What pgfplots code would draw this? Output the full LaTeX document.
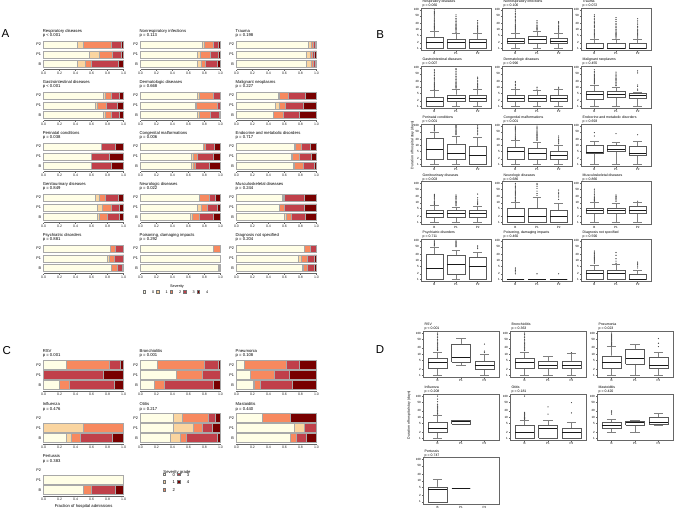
\documentclass[border=0pt]{standalone}
\usepackage{fontspec}
\setmainfont{Liberation Sans}
\usepackage{pgfplots}
\usepackage{pgfplotstable}
\pgfplotsset{compat=1.18}

\definecolor{s0}{HTML}{FFFEE6}
\definecolor{s1}{HTML}{FAD5A0}
\definecolor{s2}{HTML}{F7895F}
\definecolor{s3}{HTML}{C0404A}
\definecolor{s4}{HTML}{780000}
\definecolor{brd}{HTML}{A8A8A8}

\newcommand\fTa{\fontsize{4.2}{4.4}\selectfont}
\newcommand\fTk{\fontsize{3.5}{3.7}\selectfont}
\newcommand\fYl{\fontsize{3.8}{4}\selectfont}
\newcommand\fTb{\fontsize{3.5}{3.7}\selectfont}
\newcommand\fBk{\fontsize{3}{3.2}\selectfont}
\newcommand\fLet{\fontsize{11.5}{12}\selectfont}

% severity shares, g: 0=B 1=P1 2=P2
\pgfplotstableread{
g s0 s1 s2 s3 s4
0 0.42 0.10 0.07 0.34 0.07
1 0.57 0.12 0.17 0.11 0.03
2 0.42 0.08 0.35 0.12 0.03
}\aResp
\pgfplotstableread{
g s0 s1 s2 s3 s4
0 0.71 0.05 0.05 0.15 0.04
1 0.71 0.04 0.12 0.10 0.03
2 0.77 0.03 0.11 0.06 0.03
}\aNonr
\pgfplotstableread{
g s0 s1 s2 s3 s4
0 0.87 0.06 0.03 0.02 0.02
1 0.87 0.05 0.03 0.025 0.025
2 0.90 0.03 0.03 0.02 0.02
}\aTrau
\pgfplotstableread{
g s0 s1 s2 s3 s4
0 0.74 0.03 0.08 0.10 0.05
1 0.64 0.03 0.11 0.14 0.08
2 0.75 0.02 0.08 0.10 0.05
}\aGast
\pgfplotstableread{
g s0 s1 s2 s3 s4
0 0.71 0.03 0.13 0.11 0.02
1 0.69 0.01 0.26 0.04 0
2 0.71 0.025 0.175 0.09 0
}\aDerm
\pgfplotstableread{
g s0 s1 s2 s3 s4
0 0.46 0.005 0.125 0.20 0.21
1 0.49 0.04 0.08 0.22 0.17
2 0.525 0.005 0.12 0.21 0.14
}\aMali
\pgfplotstableread{
g s0 s1 s2 s3 s4
0 0.59 0 0 0.25 0.16
1 0.59 0 0 0.23 0.18
2 0.72 0 0 0.17 0.11
}\aPeri
\pgfplotstableread{
g s0 s1 s2 s3 s4
0 0.63 0.025 0.035 0.17 0.14
1 0.63 0.03 0.05 0.20 0.09
2 0.78 0.01 0.02 0.11 0.08
}\aCong
\pgfplotstableread{
g s0 s1 s2 s3 s4
0 0.71 0.01 0.12 0.13 0.03
1 0.68 0.02 0.09 0.14 0.07
2 0.72 0.01 0.08 0.11 0.08
}\aEndo
\pgfplotstableread{
g s0 s1 s2 s3 s4
0 0.67 0.03 0.09 0.16 0.05
1 0.67 0.06 0.11 0.11 0.05
2 0.64 0.05 0.08 0.16 0.07
}\aGeni
\pgfplotstableread{
g s0 s1 s2 s3 s4
0 0.62 0.03 0.08 0.185 0.085
1 0.71 0.05 0.07 0.13 0.04
2 0.73 0 0.13 0.08 0.06
}\aNeur
\pgfplotstableread{
g s0 s1 s2 s3 s4
0 0.60 0.02 0.06 0.18 0.14
1 0.54 0 0.06 0.25 0.15
2 0.57 0.015 0.015 0.25 0.15
}\aMusc
\pgfplotstableread{
g s0 s1 s2 s3 s4
0 0.84 0 0.085 0.055 0.02
1 0.80 0.02 0.065 0.105 0.01
2 0.83 0 0.06 0.11 0
}\aPsyc
\pgfplotstableread{
g s0 s1 s2 s3 s4
0 0.97 0 0.01 0.02 0
1 1 0 0 0 0
2 0.91 0 0.09 0 0
}\aPois
\pgfplotstableread{
g s0 s1 s2 s3 s4
0 0.82 0.01 0.05 0.09 0.03
1 0.77 0.04 0.07 0.09 0.03
2 0.85 0 0.07 0.08 0
}\aDiag
\pgfplotstableread{
g s0 s1 s2 s3 s4
0 0.20 0 0.12 0.57 0.11
1 0 0 0 0.75 0.25
2 0.28 0 0.54 0.14 0.04
}\cRsv
\pgfplotstableread{
g s0 s1 s2 s3 s4
0 0.18 0 0.12 0.61 0.09
1 0.45 0 0.33 0.22 0
2 0.21 0 0.59 0.18 0.02
}\cBron
\pgfplotstableread{
g s0 s1 s2 s3 s4
0 0.21 0.01 0.08 0.40 0.30
1 0.18 0 0.30 0.18 0.34
2 0.10 0 0.52 0.17 0.21
}\cPneu
\pgfplotstableread{
g s0 s1 s2 s3 s4
0 0.29 0.06 0.11 0.40 0.14
1 0 0.50 0.50 0 0
2 0 0 0 0 0
}\cInfl
\pgfplotstableread{
g s0 s1 s2 s3 s4
0 0.38 0.12 0.08 0.38 0.04
1 0.41 0.25 0.11 0.13 0.10
2 0.41 0.12 0.32 0.09 0.06
}\cOtit
\pgfplotstableread{
g s0 s1 s2 s3 s4
0 0.67 0 0.08 0.125 0.125
1 0.72 0.13 0 0.15 0
2 0.33 0 0.34 0 0.33
}\cMast
\pgfplotstableread{
g s0 s1 s2 s3 s4
0 0.50 0 0.10 0.30 0.10
1 1 0 0 0 0
2 0 0 0 0 0
}\cPert

\pgfplotsset{
  sevbase/.style={scale only axis, width=80pt, xmin=0, xmax=1, ymin=-0.55, ymax=2.55,
    xbar stacked,
    xtick={0,0.2,0.4,0.6,0.8,1}, xticklabels={0.0,0.2,0.4,0.6,0.8,1.0},
    ytick={0,1,2}, yticklabels={B,P1,P2},
    axis lines*=left, y axis line style={draw=none}, ytick style={draw=none},
    x axis line style={black!60, line width=0.3pt}, xtick style={black!60, line width=0.3pt},
    tick align=outside, major tick length=1.3pt,
    xticklabel style={font=\fTk, inner sep=0.6pt, text=black!85},
    yticklabel style={font=\fYl, inner sep=1pt},
    clip=false},
  sevA/.style={sevbase, height=30.5pt, bar width=7pt,
    every axis plot/.append style={draw=brd, line width=0.6pt}},
  sevC/.style={sevbase, height=31.6pt, bar width=9pt,
    every axis plot/.append style={draw=brd, line width=0.9pt}},
  sevleg/.style={hide axis, scale only axis, width=1pt, height=1pt,
    xmin=0, xmax=1, ymin=0, ymax=1, anchor=center,
    legend image code/.code={\draw[##1, draw=black!55, line width=0.3pt]
      (0pt,0.1pt) rectangle (2.6pt,2.7pt);}},
  whisk/.style={draw=black!50, line width=0.3pt},
  boxl/.style={draw=black!65, line width=0.3pt, fill=white},
  med/.style={draw=black!90, line width=0.75pt},
  outl/.style={only marks, mark=*, mark size=0.5pt,
    mark options={fill=black!70, draw=black!70, line width=0.1pt}},
}

% stacked severity bars: style, x, top, name, p, table
\newcommand{\sev}[6]{%
\begin{axis}[#1, at={(#2pt,-#3pt)}, anchor=north west]
\addplot[fill=s0] table[x=s0,y=g]{#6};
\addplot[fill=s1] table[x=s1,y=g]{#6};
\addplot[fill=s2] table[x=s2,y=g]{#6};
\addplot[fill=s3] table[x=s3,y=g]{#6};
\addplot[fill=s4] table[x=s4,y=g]{#6};
\end{axis}
\node[anchor=base west,inner sep=0pt,font=\fTa] at ([xshift=-1pt,yshift=6.5pt]#2pt,-#3pt) {#4};
\node[anchor=base west,inner sep=0pt,font=\fTa] at ([xshift=-1pt,yshift=2.2pt]#2pt,-#3pt) {#5};
}
% box axis: width, height, x, top
\newcommand{\boxax}[4]{\begin{axis}[scale only axis, anchor=north west,
    width=#1pt, height=#2pt, at={(#3pt,-#4pt)},
    ymode=log, ymin=0.8, ymax=125, xmin=0.38, xmax=3.62,
    xtick={1,2,3}, xticklabels={B,P1,P2},
    ytick={1,2,5,10,20,50,100}, yticklabels={1,2,5,10,20,50,100}, minor ytick={},
    axis line style={black!60, line width=0.35pt}, tick style={black!60, line width=0.3pt},
    tick align=outside, major tick length=1.2pt, xtick pos=left, ytick pos=left,
    tick label style={font=\fBk, inner sep=0.7pt}]}
% box: position, lower whisker, q1, median, q3, upper whisker, outliers
\newcommand{\bx}[7]{%
\addplot[whisk] table[row sep=\\, x expr=\thisrow{x}+#1]{x y\\ 0 #5\\ 0 #6\\};
\addplot[whisk] table[row sep=\\, x expr=\thisrow{x}+#1]{x y\\ 0 #3\\ 0 #2\\};
\addplot[whisk] table[row sep=\\, x expr=\thisrow{x}+#1]{x y\\ -0.2 #6\\ 0.2 #6\\};
\addplot[whisk] table[row sep=\\, x expr=\thisrow{x}+#1]{x y\\ -0.2 #2\\ 0.2 #2\\};
\addplot[boxl] table[row sep=\\, x expr=\thisrow{x}+#1]{x y\\ -0.4 #3\\ 0.4 #3\\ 0.4 #5\\ -0.4 #5\\ -0.4 #3\\};
\addplot[med] table[row sep=\\, x expr=\thisrow{x}+#1]{x y\\ -0.4 #4\\ 0.4 #4\\};
\if\relax\detokenize{#7}\relax\else\addplot[outl] coordinates {#7};\fi}
\newcommand{\btitle}[4]{%
\node[anchor=base west,inner sep=0pt,font=\fTb] at ([xshift=1.5pt,yshift=5.1pt]#1pt,-#2pt) {#3};
\node[anchor=base west,inner sep=0pt,font=\fTb] at ([xshift=1.5pt,yshift=1.2pt]#1pt,-#2pt) {#4};}

\begin{document}
\begin{tikzpicture}
\path[use as bounding box] (0pt,0pt) rectangle (676pt,-510pt);

% ---------- A ----------
\node[font=\fLet] at (5.5pt,-33.5pt) {A};
\sev{sevA}{43.6}{39.1}{Respiratory diseases}{p < 0.001}{\aResp}
\sev{sevA}{140.5}{39.1}{Nonrespiratory infections}{p = 0.113}{\aNonr}
\sev{sevA}{236.5}{39.1}{Trauma}{p = 0.198}{\aTrau}
\sev{sevA}{43.6}{90.1}{Gastrointestinal diseases}{p < 0.001}{\aGast}
\sev{sevA}{140.5}{90.1}{Dermatologic diseases}{p = 0.668}{\aDerm}
\sev{sevA}{236.5}{90.1}{Malignant neoplasms}{p = 0.227}{\aMali}
\sev{sevA}{43.6}{141.1}{Perinatal conditions}{p = 0.038}{\aPeri}
\sev{sevA}{140.5}{141.1}{Congenital malformations}{p = 0.006}{\aCong}
\sev{sevA}{236.5}{141.1}{Endocrine and metabolic disorders}{p = 0.717}{\aEndo}
\sev{sevA}{43.6}{192.1}{Genitourinary diseases}{p = 0.849}{\aGeni}
\sev{sevA}{140.5}{192.1}{Neurologic diseases}{p = 0.022}{\aNeur}
\sev{sevA}{236.5}{192.1}{Musculoskeletal diseases}{p = 0.244}{\aMusc}
\sev{sevA}{43.6}{243.1}{Psychiatric disorders}{p = 0.881}{\aPsyc}
\sev{sevA}{140.5}{243.1}{Poisoning, damaging impacts}{p = 0.292}{\aPois}
\sev{sevA}{236.5}{243.1}{Diagnosis not specified}{p = 0.204}{\aDiag}

\node[font=\fYl] at (177pt,-286.3pt) {Severity};
\begin{axis}[sevleg, at={(176.5pt,-293.3pt)},
  legend style={at={(0.5,0.5)}, anchor=center, draw=none, fill=none, font=\fYl,
    legend columns=5, inner sep=0pt, /tikz/every odd column/.append style={column sep=4.5pt}}]
\addlegendimage{fill=s0}\addlegendentry{0}
\addlegendimage{fill=s1}\addlegendentry{1}
\addlegendimage{fill=s2}\addlegendentry{2}
\addlegendimage{fill=s3}\addlegendentry{3}
\addlegendimage{fill=s4}\addlegendentry{4}
\end{axis}

% ---------- B ----------
\node[font=\fLet] at (380.3pt,-34.5pt) {B};
\node[rotate=90, font=\fTb] at (412.5pt,-145pt) {Duration of hospital stay (days)};

\boxax{70}{42.5}{421}{8}
\bx{1}{1}{1}{2}{4}{8}{(1,9)(1,10)(1,11)(1,12)(1,13)(1,14)(1,15)(1,17)(1,19)(1,21)(1,24)(1,27)(1,30)(1,34)(1,38)(1,43)(1,49)(1,56)(1,64)(1,73)(1,84)(1,100)}
\bx{2}{1}{1}{2}{3}{6}{(2,7)(2,8)(2,9)(2,10)(2,11)(2,12)(2,14)(2,16)(2,18)(2,21)(2,25)(2,30)(2,36)(2,45)(2,55)}
\bx{3}{1}{1}{2}{3}{6}{(3,7)(3,8)(3,9)(3,10)(3,11)(3,12)(3,14)(3,16)(3,19)(3,23)(3,28)}
\end{axis}
\btitle{421}{8}{Respiratory diseases}{p = 0.060}
\boxax{70}{42.5}{502}{8}
\bx{1}{1}{2}{2.5}{3.5}{6}{(1,7)(1,8)(1,9)(1,10)(1,11)(1,12)(1,14)(1,16)(1,18)(1,21)(1,24)(1,28)(1,33)(1,39)(1,46)(1,55)(1,66)(1,80)(1,100)}
\bx{2}{1}{2}{3}{4.5}{8}{(2,9)(2,10)(2,11)(2,12)(2,14)(2,16)(2,19)(2,23)(2,28)}
\bx{3}{1}{2}{2.5}{3.5}{6}{(3,7)(3,8)(3,9)(3,10)(3,11)(3,12)(3,14)(3,16)(3,19)(3,22)(3,25)}
\end{axis}
\btitle{502}{8}{Nonrespiratory infections}{p = 0.106}
\boxax{70}{42.5}{581}{8}
\bx{1}{1}{1}{1}{2}{3}{(1,3.5)(1,4)(1,4.5)(1,5)(1,5.5)(1,6)(1,7)(1,8)(1,9)(1,10)(1,12)(1,14)(1,16)(1,19)(1,22)(1,26)(1,31)(1,37)(1,45)(1,55)}
\bx{2}{1}{1}{1}{2}{3}{(2,3.5)(2,4)(2,4.5)(2,5)(2,5.5)(2,6)(2,7)(2,8)(2,9)(2,10)(2,12)(2,14)(2,17)(2,20)(2,25)(2,32)(2,40)}
\bx{3}{1}{1}{1}{2}{3}{(3,3.5)(3,4)(3,4.5)(3,5)(3,5.5)(3,6)(3,7)(3,8)(3,9)(3,10)(3,12)(3,14)(3,17)(3,21)(3,27)(3,35)}
\end{axis}
\btitle{581}{8}{Trauma}{p = 0.072}

\boxax{70}{42.5}{421}{66}
\bx{1}{1}{1}{1.9}{3.1}{7}{(1,7.5)(1,8)(1,9)(1,10)(1,11)(1,12)(1,14)(1,16)(1,18)(1,21)(1,24)(1,28)(1,33)(1,40)(1,48)(1,58)(1,70)(1,80)}
\bx{2}{1}{1.9}{2.6}{4.1}{8}{(2,9)(2,10)(2,11)(2,12)(2,14)(2,16)(2,18)(2,21)(2,25)(2,30)(2,36)(2,44)(2,54)(2,66)(2,80)(2,90)}
\bx{3}{1}{1.9}{2.6}{4.1}{8}{(3,9)(3,10)(3,11)(3,12)(3,14)(3,16)(3,19)(3,23)(3,28)(3,33)}
\end{axis}
\btitle{421}{66}{Gastrointestinal diseases}{p = 0.007}
\boxax{70}{42.5}{502}{66}
\bx{1}{1}{1.9}{2.8}{3.8}{8}{(1,9)(1,10)(1,12)(1,14)(1,17)(1,20)}
\bx{2}{1}{1.9}{2.8}{3.8}{7}{(2,8)(2,10)}
\bx{3}{1}{1.9}{2.8}{3.8}{8}{(3,9)(3,10)}
\end{axis}
\btitle{502}{66}{Dermatologic diseases}{p = 0.996}
\boxax{70}{42.5}{581}{66}
\bx{1}{1}{2.3}{4.5}{6.1}{13.5}{(1,15)(1,16)(1,18)(1,20)(1,22)(1,25)(1,28)(1,31)(1,35)(1,40)(1,46)(1,55)(1,65)(1,80)}
\bx{2}{1}{3}{4.5}{6.1}{10}{(2,12)(2,13)(2,15)(2,17)(2,19)(2,22)(2,25)(2,29)(2,34)(2,40)(2,48)(2,60)}
\bx{3}{1}{2.8}{3.8}{5}{5.7}{(3,7)(3,8)(3,11)(3,13)(3,55)(3,70)}
\end{axis}
\btitle{581}{66}{Malignant neoplasms}{p = 0.455}

\boxax{70}{42.5}{421}{124}
\bx{1}{1}{1.9}{6.3}{23}{50}{(1,55)(1,60)(1,66)(1,73)(1,80)(1,88)(1,97)(1,105)}
\bx{2}{1}{2}{3.7}{12}{30}{(2,35)(2,39)(2,43)(2,48)(2,53)(2,59)(2,66)(2,74)(2,83)(2,93)(2,104)}
\bx{3}{1}{1}{2.9}{9}{27}{(3,35)(3,42)(3,50)(3,60)(3,72)(3,85)(3,100)}
\end{axis}
\btitle{421}{124}{Perinatal conditions}{p < 0.001}
\boxax{70}{42.5}{502}{124}
\bx{1}{1}{2}{5}{8}{18}{(1,20)(1,22)(1,24)(1,27)(1,30)(1,34)(1,38)(1,43)(1,49)(1,56)(1,64)(1,73)(1,84)(1,97)}
\bx{2}{1}{2}{4}{7}{15}{(2,18)(2,20)(2,22)(2,25)(2,28)(2,32)(2,36)(2,41)(2,47)(2,54)(2,62)(2,72)(2,84)(2,97)}
\bx{3}{1}{2}{2.9}{5}{10}{(3,12)(3,13)(3,15)(3,17)(3,20)(3,24)(3,30)}
\end{axis}
\btitle{502}{124}{Congenital malformations}{p < 0.001}
\boxax{70}{42.5}{581}{124}
\bx{1}{1}{3.7}{4.4}{9.7}{16}{(1,30)(1,45)}
\bx{2}{1}{5}{6}{10}{15}{(2,40)}
\bx{3}{1}{3}{4}{9}{17}{(3,35)}
\end{axis}
\btitle{581}{124}{Endocrine and metabolic disorders}{p = 0.693}

\boxax{70}{42.5}{421}{181.5}
\bx{1}{1}{1.8}{2.9}{4.1}{7.4}{(1,8)(1,9)(1,10)(1,11)(1,12)(1,14)(1,16)(1,18)(1,21)(1,24)(1,27)}
\bx{2}{1}{1.8}{2.9}{4}{6}{(2,7)(2,8)(2,9)(2,10)(2,11)(2,12)(2,14)(2,16)(2,18)(2,21)(2,25)}
\bx{3}{1}{1.8}{2.9}{4.1}{7}{(3,8)(3,9)(3,10)(3,12)(3,14)(3,18)(3,28)}
\end{axis}
\btitle{421}{181.5}{Genitourinary diseases}{p = 0.003}
\boxax{70}{42.5}{502}{181.5}
\bx{1}{1}{1}{1.9}{5.2}{10.7}{(1,12)(1,13)(1,14)(1,16)(1,18)(1,20)(1,23)(1,26)(1,30)(1,34)(1,39)(1,45)(1,52)(1,60)(1,70)(1,82)(1,100)}
\bx{2}{1}{1}{1.9}{5.2}{19}{(2,24)(2,30)(2,40)(2,55)(2,70)(2,85)(2,100)}
\bx{3}{1}{1}{1.9}{4.1}{9}{(3,15)(3,20)(3,25)(3,30)(3,35)(3,45)}
\end{axis}
\btitle{502}{181.5}{Neurologic diseases}{p = 0.686}
\boxax{70}{42.5}{581}{181.5}
\bx{1}{1}{2.8}{4.1}{5.4}{10.7}{(1,12)(1,13)(1,14)(1,15)(1,17)(1,19)(1,22)(1,26)(1,32)(1,40)(1,50)}
\bx{2}{1}{2.8}{4.1}{5.4}{10}{(2,12)(2,14)(2,16)(2,18)(2,21)(2,25)}
\bx{3}{1}{2.8}{4.1}{6.6}{11}{(3,12)}
\end{axis}
\btitle{581}{181.5}{Musculoskeletal diseases}{p = 0.866}

\boxax{70}{42.5}{421}{239}
\bx{1}{1}{1}{3.9}{20}{49}{(1,55)(1,60)(1,66)(1,73)(1,80)(1,90)(1,100)}
\bx{2}{1}{2}{5.8}{19}{33}{(2,50)(2,56)(2,63)(2,71)(2,80)(2,90)(2,100)}
\bx{3}{1}{1}{4.7}{14}{27}{(3,40)(3,48)(3,55)}
\end{axis}
\btitle{421}{239}{Psychiatric disorders}{p = 0.711}
\boxax{70}{42.5}{502}{239}
\bx{1}{1}{1}{1}{1}{1}{(1,2)(1,2.5)(1,3)(1,3.5)(1,4)}
\bx{2}{1}{1}{1}{1}{1}{(2,2)}
\bx{3}{1}{1}{1}{1}{1}{(3,2)}
\end{axis}
\btitle{502}{239}{Poisoning, damaging impacts}{p = 0.460}
\boxax{70}{42.5}{581}{239}
\bx{1}{1}{1}{2}{3}{5.8}{(1,7)(1,8)(1,9)(1,10)(1,11)(1,12)(1,13)(1,14)(1,15)(1,17)(1,19)(1,22)(1,26)(1,30)}
\bx{2}{1}{1}{2}{3}{6}{(2,7)(2,9)(2,12)(2,18)(2,25)}
\bx{3}{1}{1}{1}{2}{3}{(3,4)(3,5)(3,6)(3,7)(3,8)}
\end{axis}
\btitle{581}{239}{Diagnosis not specified}{p = 0.590}

% ---------- C ----------
\node[font=\fLet] at (6.7pt,-350.3pt) {C};
\sev{sevC}{43.6}{359.1}{RSV}{p = 0.001}{\cRsv}
\sev{sevC}{140.5}{359.1}{Bronchiolitis}{p = 0.001}{\cBron}
\sev{sevC}{236.5}{359.1}{Pneumonia}{p = 0.108}{\cPneu}
\sev{sevC}{43.6}{412.4}{Influenza}{p = 0.476}{\cInfl}
\sev{sevC}{140.5}{412.4}{Otitis}{p = 0.217}{\cOtit}
\sev{sevC}{236.5}{412.4}{Mastoiditis}{p = 0.440}{\cMast}
\sev{sevC}{43.6}{464.4}{Pertussis}{p = 0.383}{\cPert}
\node[font=\fTa] at (83.6pt,-506pt) {Fraction of hospital admissions};

\node[font=\fTa] at (177pt,-472pt) {Severity grade};
\begin{axis}[sevleg, at={(177pt,-483.3pt)},
  legend style={at={(0.5,0.5)}, anchor=center, draw=none, fill=none, font=\fTa,
    legend columns=2, inner sep=0pt, row sep=-0.6pt,
    /tikz/every odd column/.append style={column sep=5pt}},
  legend cell align=left]
\addlegendimage{fill=s0}\addlegendentry{0}
\addlegendimage{fill=s3}\addlegendentry{3}
\addlegendimage{fill=s1}\addlegendentry{1}
\addlegendimage{fill=s4}\addlegendentry{4}
\addlegendimage{fill=s2}\addlegendentry{2}
\end{axis}

% ---------- D ----------
\node[font=\fLet] at (380pt,-349.7pt) {D};
\node[rotate=90, font=\fTb] at (409pt,-415pt) {Duration of hospital stay (days)};

\boxax{76}{46.5}{423}{331}
\bx{1}{1}{2.2}{4.1}{6.3}{12}{(1,15)(1,16)(1,17)(1,18)(1,20)(1,22)(1,25)(1,28)(1,32)(1,37)(1,43)(1,50)(1,60)(1,72)(1,85)(1,100)}
\bx{2}{3}{4.4}{7}{31}{56}{}
\bx{3}{1}{1.9}{3}{4.7}{10}{(3,12)(3,14)(3,30)}
\end{axis}
\btitle{423}{331}{RSV}{p < 0.001}
\boxax{76}{46.5}{510}{331}
\bx{1}{1}{2.1}{4.1}{6.3}{12}{(1,15)(1,16)(1,18)(1,20)(1,22)(1,25)(1,28)(1,32)(1,37)(1,43)(1,50)(1,60)(1,72)(1,85)(1,100)}
\bx{2}{1}{2.1}{3}{4.9}{8}{}
\bx{3}{1}{2.1}{3}{4.9}{11}{(3,12)}
\end{axis}
\btitle{510}{331}{Bronchiolitis}{p = 0.363}
\boxax{76}{46.5}{597}{331}
\bx{1}{1}{2.1}{4.1}{8.5}{23}{(1,25)(1,27)(1,29)(1,32)(1,35)(1,38)(1,42)(1,46)(1,51)(1,56)(1,62)(1,69)(1,77)(1,86)(1,100)}
\bx{2}{1}{3.6}{6.3}{18}{30}{}
\bx{3}{1}{2.1}{3}{7}{12.6}{(3,23)(3,33)(3,55)}
\end{axis}
\btitle{597}{331}{Pneumonia}{p = 0.023}

\boxax{76}{46.5}{423}{394}
\bx{1}{1}{2}{2.9}{5.8}{12.7}{(1,14)(1,15)(1,16)(1,18)(1,20)(1,22)(1,25)(1,28)(1,31)(1,34)(1,41)(1,54)(1,72)(1,100)}
\bx{2}{4.9}{4.9}{6.3}{7.5}{7.5}{}
\end{axis}
\btitle{423}{394}{Influenza}{p = 0.208}
\boxax{76}{46.5}{510}{394}
\bx{1}{1}{1}{2}{4.1}{7.5}{(1,8)(1,8.5)(1,9)(1,9.5)(1,10)(1,11)(1,12)(1,13)(1,14)(1,15)(1,16)(1,17)(1,100)}
\bx{2}{1}{1}{2.9}{4.1}{7.5}{(2,14)(2,31)}
\bx{3}{1}{1}{2}{2.9}{5.8}{(3,16)(3,49)}
\end{axis}
\btitle{510}{394}{Otitis}{p = 0.181}
\boxax{76}{46.5}{597}{394}
\bx{1}{2}{2.9}{4.1}{5.8}{8.5}{(1,14)(1,16)(1,18)(1,20)}
\bx{2}{2}{4.3}{5.8}{6.3}{7.5}{}
\bx{3}{4.1}{4.9}{5.8}{10}{15}{}
\end{axis}
\btitle{597}{394}{Mastoiditis}{p = 0.420}

\boxax{76}{46.5}{423}{457.5}
\bx{1}{1}{1}{3.8}{5.1}{11.4}{}
\bx{2}{4.3}{4.3}{4.3}{4.3}{4.3}{}
\end{axis}
\btitle{423}{457.5}{Pertussis}{p = 0.747}
\end{tikzpicture}
\end{document}
